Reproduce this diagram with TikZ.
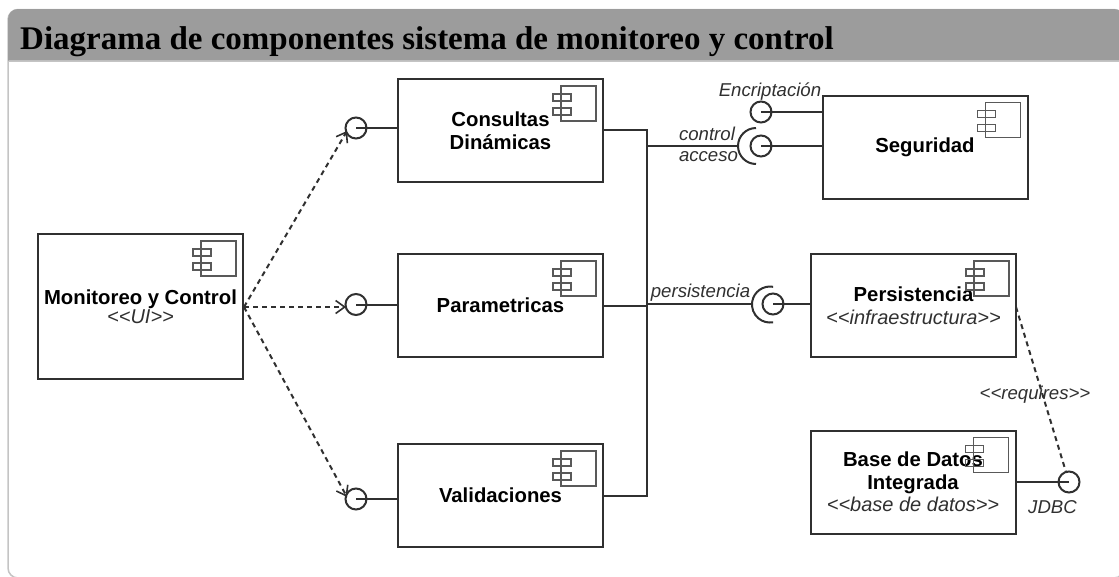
\documentclass[tikz,border=0pt]{standalone}
\usepackage{fontspec}
\setmainfont{Liberation Sans}
\newfontfamily\titlefont{Liberation Serif}
\usetikzlibrary{arrows.meta}
\definecolor{ink}{HTML}{303030}
\definecolor{headgray}{HTML}{9C9C9C}
\definecolor{framegray}{HTML}{C4C4C4}
\newcommand{\stereotxt}[1]{{\fontsize{20}{22}\selectfont\mdseries\itshape\color{ink}<{}<#1>{}>}}
\tikzset{
  x=1pt,y=-1pt,
  comp/.style={draw=ink,line width=2pt,minimum width=205pt,minimum height=103pt,inner sep=0pt,align=center,text=black,font=\fontsize{20.3}{22.5}\selectfont\bfseries},
  lollipop/.style={circle,draw=ink,line width=2pt,minimum size=21pt,inner sep=0pt},
  wire/.style={draw=ink,line width=2pt},
  dep/.style={draw=ink,line width=2pt,dash pattern=on 5pt off 4pt},
  arrowed/.style={-{Straight Barb[length=9pt,width=13pt,line width=1.6pt]}},
  lbl/.style={font=\fontsize{18.6}{20}\selectfont\itshape,text=ink,inner sep=0pt},
  iconpart/.style={draw=ink!80,line width=1.6pt},
}
\newcommand{\compicon}[1]{%
  \draw[iconpart] ([shift={(-43,8)}]#1.north east) rectangle ([shift={(-8,43)}]#1.north east);
  \draw[iconpart] ([shift={(-51,16)}]#1.north east) rectangle ([shift={(-33,23)}]#1.north east);
  \draw[iconpart] ([shift={(-51,30)}]#1.north east) rectangle ([shift={(-33,37)}]#1.north east);
}
\begin{document}
\begin{tikzpicture}
\useasboundingbox (0,0) rectangle (1119,576);
% frame
\draw[framegray,line width=1.5pt,fill=white,rounded corners=10pt] (8,9.5) rectangle (1124,578);
\fill[headgray] (8,60.5) [rounded corners=10pt] -- (8,9) -- (1124,9) [sharp corners] -- (1124,60.5) -- cycle;
\draw[framegray,line width=1pt] (8,61) -- (1119,61);
\node[font=\titlefont\fontsize{33}{38}\selectfont\bfseries,text=black,anchor=base west,inner sep=0pt] (title) at (20,49) {Diagrama de componentes sistema de monitoreo y control};

% components
\node[comp,minimum height=145pt] (ui) at (140.5,306.5) {Monitoreo y Control\\[-3pt]\stereotxt{UI}};
\node[comp] (cons) at (500.5,130.5) {Consultas\\Dinámicas};
\node[comp] (para) at (500.5,305.5) {Parametricas};
\node[comp] (vali) at (500.5,495.5) {Validaciones};
\node[comp] (segu) at (925,147) {Seguridad};
\node[comp] (pers) at (913.5,305.5) {Persistencia\\[1pt]\stereotxt{infraestructura}};
\node[comp] (base) at (913,482) {Base de Datos\\Integrada\\\stereotxt{base de datos}};
\compicon{ui}\compicon{cons}\compicon{para}\compicon{vali}\compicon{segu}\compicon{pers}\compicon{base}

% provided interfaces
\node[lollipop] (icons) at (356,128) {};
\node[lollipop] (ipara) at (356,304.5) {};
\node[lollipop] (ivali) at (356,499) {};
\node[lollipop] (ienc) at (761,112) {};
\node[lollipop] (ictrl) at (761,146) {};
\node[lollipop] (ipers) at (773,304) {};
\node[lollipop] (ijdbc) at (1069,482) {};
\coordinate (ui-out) at (244,307);
\coordinate (tip-cons) at (347,131);
\coordinate (tip-para) at (346,307);
\coordinate (tip-vali) at (347,497);
\coordinate (bus-top) at (647,130);
\coordinate (bus-bot) at (647,495.5);
\coordinate (para-out) at (603,306);
\coordinate (sock-ctrl) at (738,146);
\coordinate (sock-pers) at (752,304);
\coordinate (pers-out) at (1016,307);

\draw[wire] (icons.center) -- (icons.center -| cons.west);
\draw[wire] (ipara.center) -- (ipara.center -| para.west);
\draw[wire] (ivali.center) -- (ivali.center -| vali.west);
\draw[wire] (ienc.center) -- (ienc.center -| segu.west);
\draw[wire] (ictrl.center) -- (ictrl.center -| segu.west);
\draw[wire] (ipers.center) -- (ipers.center -| pers.west);
\draw[wire] (ijdbc.center) -- (ijdbc.center -| base.east);

% bus
\draw[wire] (bus-top -| cons.east) -- (bus-top) -- (bus-bot) -- (bus-bot -| vali.east);
\draw[wire] (para-out) -- (para-out -| bus-top);
\draw[wire] (sock-ctrl -| bus-top) -- (sock-ctrl);
\draw[wire] (sock-pers -| bus-top) -- (sock-pers);

% sockets
\draw[wire] (756,128) arc[start angle=90,end angle=270,radius=18pt];
\draw[wire] (773.1,286.8) arc[start angle=80,end angle=280,radius=18pt];

% dependencies
\draw[dep,arrowed] (ui-out) -- (tip-cons);
\draw[dep,arrowed] (ui-out) -- (tip-para);
\draw[dep,arrowed] (ui-out) -- (tip-vali);
\draw[dep] (pers-out) -- (ijdbc);

% labels
\node[lbl] (lenc) at (770,92) {Encriptación};
\node[lbl] (lctrl) at (707,134) {control};
\node[lbl] (lacc) at (708.5,157) {acceso};
\node[lbl] (lper) at (700.5,293) {persistencia};
\node[lbl] (lreq) at (1035,395) {<{}<requires>{}>};
\node[lbl] (ljdbc) at (1052.5,507) {JDBC};
\end{tikzpicture}
\end{document}
